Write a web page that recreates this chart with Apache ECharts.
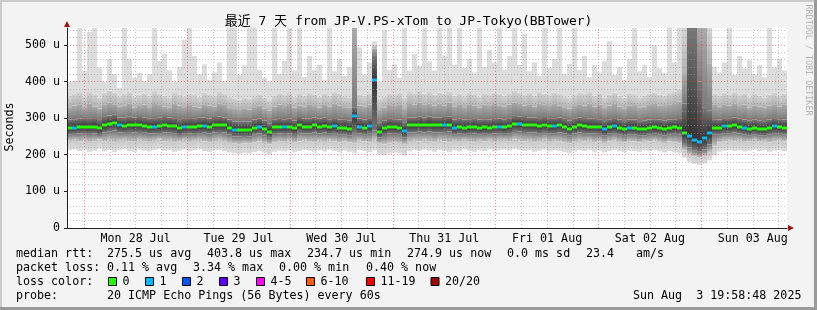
<!DOCTYPE html>
<html><head><meta charset="utf-8">
<script src="https://cdn.jsdelivr.net/npm/echarts@6/dist/echarts.min.js"></script>
<style>html,body{margin:0;padding:0;background:#f3f3f3;}#c{width:817px;height:310px;}</style>
</head><body><div id="c"></div>
<script>
// ---- axis / labels ----
const dayLabels = ['Mon 28 Jul','Tue 29 Jul','Wed 30 Jul','Thu 31 Jul','Fri 01 Aug','Sat 02 Aug','Sun 03 Aug'];
const dayNoonHours = [36, 60, 84, 108, 132, 156, 180];   // hours since 27 Jul 00:00
const startHour = 19.98;           // 27 Jul 19:58:48
const endHour = 187.98;            // 03 Aug 19:58:48
const bucketHours = 7 / 6;         // 70 minute buckets (144 buckets)
const yMaxUs = 546;

// ---- per-bucket RTT distribution (microseconds) ----
const minUs = [212,215,210,214,208,211,216,209,213,207,212,215,210,208,214,211,209,213,216,210,212,208,211,214,
209,212,215,210,207,211,213,209,206,204,202,205,203,207,210,206,200,208,211,209,212,207,210,213,
211,208,212,209,214,210,207,211,208,205,213,210,207,212,200,198,203,206,204,197,209,212,210,214,
211,208,213,210,207,212,209,214,211,208,212,210,215,209,212,214,211,216,213,210,212,208,211,214,
209,212,210,207,204,209,212,210,213,208,211,206,210,213,209,207,211,210,208,212,210,213,209,206,
210,207,204,192,180,175,173,176,185,198,208,211,213,210,212,209,211,214,210,212,208,211,213,210];
const lowUs = [238,240,236,239,235,237,241,236,239,234,238,240,236,235,239,237,235,238,241,236,238,234,237,240,
235,238,240,236,233,237,239,235,232,230,229,231,230,233,236,232,228,234,237,235,238,233,236,239,
237,234,238,235,239,236,233,237,234,231,239,236,233,240,230,228,231,233,232,227,235,238,236,240,
237,234,239,236,233,238,235,240,237,234,238,236,240,235,238,240,237,241,239,236,238,234,237,240,
235,238,236,233,230,235,238,236,239,234,237,232,236,239,235,233,237,236,234,238,236,239,235,232,
236,233,230,212,200,195,192,196,205,222,234,237,239,236,238,235,237,240,236,238,234,237,239,236];
const midLowUs = [256,257,258,259,257,258,254,261,264,266,261,260,262,261,262,260,258,258,259,261,260,259,254,257,
258,257,259,260,258,261,262,261,256,250,250,251,250,256,258,253,246,257,258,257,258,254,262,258,
258,261,258,260,257,259,256,256,253,262,258,256,259,266,247,254,258,257,256,248,261,261,263,261,
263,261,261,262,263,256,258,256,257,258,256,257,256,258,259,257,259,265,264,262,261,261,259,262,
259,259,261,258,253,258,261,259,258,258,257,252,257,259,256,252,256,256,252,253,256,257,256,253,
256,257,256,232,220,212,208,214,228,256,256,259,259,261,258,256,253,256,253,252,256,259,257,256];
const medianUs = [274,274,276,277,276,277,272,280,284,287,280,279,281,280,281,279,277,277,278,280,279,278,272,276,
277,276,278,279,277,280,281,280,274,268,268,268,268,274,277,271,263,275,276,275,276,272,281,277,
277,280,277,279,275,278,274,274,271,306,277,274,278,404,263,272,276,275,274,264,280,280,282,280,
282,280,280,281,282,274,276,274,275,276,274,275,274,276,277,275,278,284,283,281,280,280,278,281,
278,278,280,276,271,276,280,278,277,276,275,270,275,278,274,270,274,274,270,271,274,275,274,271,
274,275,274,258,252,240,235,245,258,274,274,278,278,280,276,274,271,274,271,270,274,278,275,274];
const midHighUs = [296,297,299,300,298,300,295,303,307,309,302,301,304,302,303,301,299,300,301,303,302,300,295,298,
300,298,301,302,299,303,304,302,296,291,290,291,290,296,299,293,286,297,298,297,299,294,303,299,
299,302,299,301,297,300,296,297,294,330,299,296,300,470,287,294,298,297,296,289,302,302,305,302,
305,302,302,303,305,296,298,296,297,298,296,297,296,298,299,297,300,306,305,303,302,302,300,303,
300,300,302,298,293,298,302,300,299,298,297,292,297,300,296,292,296,296,292,293,296,297,296,293,
296,297,300,340,600,600,400,330,320,297,296,300,300,302,298,296,293,296,293,292,296,300,297,296];
const highUs = [330,334,338,328,340,332,326,336,342,338,331,335,340,329,333,337,330,341,336,332,328,339,334,330,
336,332,329,338,334,331,340,336,328,325,322,327,324,330,334,326,320,332,337,333,339,329,335,331,
338,333,329,336,332,340,335,330,328,600,334,331,337,490,322,329,336,333,338,325,341,337,343,336,
340,334,339,335,342,331,336,330,338,334,329,337,333,339,335,331,337,343,339,334,338,332,340,336,
333,339,335,330,326,333,338,335,340,332,337,328,334,339,331,327,335,333,328,331,336,339,334,333,
338,341,345,420,600,600,600,600,450,336,332,338,335,340,333,337,329,335,331,328,334,338,332,336];
const topUs = [362,368,371,358,373,365,356,369,375,370,360,366,372,359,364,368,361,374,367,362,357,371,365,360,
367,363,359,370,365,361,372,367,358,354,350,357,353,360,365,356,349,362,368,364,371,359,366,361,
369,364,358,367,362,372,366,360,357,600,365,361,368,500,352,358,367,363,369,355,372,368,374,367,
371,365,370,366,373,361,367,360,369,365,358,368,363,370,366,361,368,374,370,365,369,362,371,367,
363,370,366,360,355,363,369,366,371,362,368,357,364,370,361,356,366,363,357,361,367,370,364,362,
369,372,380,600,600,600,600,600,600,367,362,369,365,371,363,368,359,366,361,357,364,369,362,366];
const maxUs = [400,402,560,430,536,560,438,398,461,420,383,560,461,411,424,401,420,560,456,475,430,398,440,514,
560,470,420,447,405,425,452,401,560,560,418,444,560,560,432,410,398,560,421,456,560,430,560,412,
470,432,446,405,560,428,461,415,440,600,493,420,452,510,398,540,432,447,410,560,430,475,442,560,
455,430,560,471,560,446,560,438,462,425,560,440,486,451,560,432,470,560,445,530,428,452,416,560,
438,462,560,420,448,560,431,470,412,445,425,455,510,418,440,405,461,560,428,446,412,498,436,424,
560,452,560,600,600,600,600,600,600,440,425,452,560,418,470,436,458,420,445,412,560,438,462,430];
// lost pings (of 20) per bucket
const lossCount = [0,1,0,0,0,0,0,0,0,0,1,0,0,0,0,0,0,1,0,0,0,0,0,1,
0,0,0,1,0,0,0,0,0,1,0,0,0,0,1,0,0,0,0,1,0,0,0,0,
0,0,0,0,0,1,0,0,0,1,1,0,1,1,0,0,0,0,0,1,0,0,0,0,
0,0,0,1,0,1,0,0,0,0,0,0,0,0,1,0,0,0,1,0,0,0,0,0,
0,1,0,0,0,0,0,0,0,0,0,1,0,1,0,0,1,0,0,0,0,0,0,0,
0,0,0,0,1,1,1,1,1,0,0,1,0,0,0,1,0,0,0,0,0,1,0,0];

const lossClasses = [
  {label:'0', lo:0, hi:0, color:'#26ff00'},
  {label:'1', lo:1, hi:1, color:'#00b8ff'},
  {label:'2', lo:2, hi:2, color:'#0059ff'},
  {label:'3', lo:3, hi:3, color:'#5e00ff'},
  {label:'4-5', lo:4, hi:5, color:'#ff00ff'},
  {label:'6-10', lo:6, hi:10, color:'#ff5e00'},
  {label:'11-19', lo:11, hi:19, color:'#ff0000'},
  {label:'20/20', lo:20, hi:20, color:'#a10000'}
];
const statsRtt = ['275.5 us avg','403.8 us max','234.7 us min','274.9 us now','0.0 ms sd','23.4','am/s'];
const statsLoss = ['0.11 % avg','3.34 % max','0.00 % min','0.40 % now'];
const probeText = '20 ICMP Echo Pings (56 Bytes) every 60s';
const stampText = 'Sun Aug  3 19:58:48 2025';
const titleText = '最近 7 天 from JP-V.PS-xTom to JP-Tokyo(BBTower)';

// ---- build series data ----
const smokeData = medianUs.map((m, i) => [startHour + i * bucketHours, startHour + (i + 1) * bucketHours,
  minUs[i], lowUs[i], midLowUs[i], m, midHighUs[i], highUs[i], topUs[i], maxUs[i]]);
const medianData = medianUs.map((m, i) => [startHour + i * bucketHours, startHour + (i + 1) * bucketHours, m, lossCount[i]]);

const LG = echarts.graphic.LinearGradient;
const bandColors = [
  ['#c8c8c8', '#dedede'],
  ['#747474', '#c8c8c8'],
  ['#333333', '#747474'],
  ['#787878', '#333333'],
  ['#ababab', '#7a7a7a'],
  ['#d3d3d3', '#b2b2b2'],
  ['#dcdcdc', '#dcdcdc']
];
const bandFills = bandColors.map(c => c[0] === c[1] ? c[0] : new LG(0, 0, 0, 1, [{offset:0, color:c[0]}, {offset:1, color:c[1]}]));

function renderSmoke(params, api) {
  const t0 = api.value(0), t1 = api.value(1);
  const xa = Math.round(api.coord([t0, 0])[0]);
  const xb = Math.round(api.coord([t1, 0])[0]);
  const lv = [];
  for (let k = 2; k <= 9; k++) lv.push(Math.min(api.value(k), yMaxUs));
  const children = [];
  for (let k = 0; k < 7; k++) {
    const lo = lv[k], hi = lv[k + 1];
    if (hi <= lo) continue;
    const yT = api.coord([t0, hi])[1], yB = api.coord([t0, lo])[1];
    children.push({type:'rect', shape:{x:xa, y:yT, width:xb - xa, height:yB - yT}, style:{fill:bandFills[k]}});
  }
  return {type:'group', children};
}
function lossColor(n) {
  for (const c of lossClasses) if (n >= c.lo && n <= c.hi) return c.color;
  return '#a10000';
}
function renderMedian(params, api) {
  const t0 = api.value(0), t1 = api.value(1), m = api.value(2), n = api.value(3);
  const p0 = api.coord([t0, m]), p1 = api.coord([t1, m]);
  const xa = Math.round(p0[0]), xb = Math.round(p1[0]);
  return {type:'rect', shape:{x:xa, y:Math.round(p0[1]) - 1.5, width:xb - xa, height:3}, style:{fill:lossColor(n)}};
}

// ---- grid lines (drawn above smoke, like rrdtool) ----
const gridLines = [];
const redStyle = {color:'rgba(230,60,60,0.55)', type:[1,2], width:1};
const grayStyle = {color:'rgba(150,150,150,0.55)', type:[1,2], width:1};
for (let h = 24; h < endHour; h += 6) {
  if (h <= startHour) continue;
  gridLines.push({xAxis:h, lineStyle: h % 24 === 0 ? redStyle : grayStyle});
}
for (let v = 20; v < yMaxUs; v += 20) {
  gridLines.push({yAxis:v, lineStyle: v % 100 === 0 ? redStyle : grayStyle});
}

const MONO = '"DejaVu Sans Mono", "Noto Sans CJK SC", monospace';
const FS = 11.67;
function txt(x, y, s, extra) {
  return {type:'text', x:x, y:y, silent:true, z:100,
    style:Object.assign({text:s, fontFamily:MONO, fontSize:FS, fill:'#000', align:'left', verticalAlign:'middle',
      textAlign:'left', textVerticalAlign:'middle'}, extra || {})};
}

const graphics = [];
// frame
graphics.push({type:'rect', shape:{x:0, y:0, width:817, height:2}, style:{fill:'#cbcbcb'}, silent:true});
graphics.push({type:'rect', shape:{x:0, y:0, width:2, height:310}, style:{fill:'#cbcbcb'}, silent:true});
graphics.push({type:'rect', shape:{x:0, y:307, width:817, height:3}, style:{fill:'#9a9a9a'}, silent:true});
graphics.push({type:'rect', shape:{x:814, y:0, width:3, height:310}, style:{fill:'#9a9a9a'}, silent:true});
// title
graphics.push({type:'text', x:408.5, y:21.5, silent:true, style:{text:titleText, fontFamily:MONO, fontSize:13, fill:'#000', align:'center', verticalAlign:'middle', textAlign:'center', textVerticalAlign:'middle'}});
// y-axis name
graphics.push({type:'text', x:10, y:127, rotation:Math.PI/2, silent:true, style:{text:'Seconds', fontFamily:MONO, fontSize:FS, fill:'#000', align:'center', verticalAlign:'middle', textAlign:'center', textVerticalAlign:'middle'}});
// watermark
graphics.push({type:'text', x:808, y:60, rotation:-Math.PI/2, silent:true, style:{text:'RRDTOOL / TOBI OETIKER', fontFamily:MONO, fontSize:8.4, fill:'#b4b4b4', align:'center', verticalAlign:'middle', textAlign:'center', textVerticalAlign:'middle'}});
// arrows
graphics.push({type:'polygon', shape:{points:[[64,27],[70,27],[67,21]]}, style:{fill:'#a01010'}, silent:true, z:100});
graphics.push({type:'polygon', shape:{points:[[788,225],[788,231],[794,228]]}, style:{fill:'#a01010'}, silent:true, z:100});
// legend rows
const rttX = [107, 207, 307, 407, 507, 586, 636];
graphics.push(txt(16, 254, 'median rtt:'));
statsRtt.forEach((s, i) => graphics.push(txt(rttX[i], 254, s)));
const lossX = [107, 193, 279, 366];
graphics.push(txt(16, 268, 'packet loss:'));
statsLoss.forEach((s, i) => graphics.push(txt(lossX[i], 268, s)));
graphics.push(txt(16, 282, 'loss color:'));
const sqX = [108.5, 145.5, 182.5, 219.5, 256.5, 306.5, 366.5, 431];
lossClasses.forEach((c, i) => {
  graphics.push({type:'rect', shape:{x:sqX[i], y:277.5, width:8, height:8}, style:{fill:c.color, stroke:'#000', lineWidth:1}, silent:true, z:100});
  graphics.push(txt(sqX[i] + 14, 282, c.label));
});
graphics.push(txt(16, 296, 'probe:'));
graphics.push(txt(107, 296, probeText));
graphics.push(txt(633, 296, stampText));

const chart = echarts.init(document.getElementById('c'), null, {renderer:'canvas'});
chart.setOption({
  backgroundColor:'#f3f3f3',
  animation:false,
  grid:{left:67, top:28, width:720, height:200, show:true, backgroundColor:'#ffffff', borderWidth:0},
  xAxis:{type:'value', min:startHour, max:endHour, z:10,
    axisLine:{show:true, lineStyle:{color:'#222', width:1}},
    axisTick:{show:false},
    splitLine:{show:false},
    axisLabel:{customValues:dayNoonHours, formatter:(v) => dayLabels[dayNoonHours.indexOf(Math.round(v))] || '',
      fontFamily:MONO, fontSize:FS, color:'#000', margin:5}},
  yAxis:{type:'value', min:0, max:yMaxUs, interval:100, z:10,
    axisLine:{show:true, lineStyle:{color:'#222', width:1}},
    axisTick:{show:true, length:3, lineStyle:{color:'#222'}},
    splitLine:{show:false},
    axisLabel:{formatter:(v) => v === 0 ? '0' : (v + ' u'), fontFamily:MONO, fontSize:FS, color:'#000', margin:7, showMaxLabel:false}},
  graphic:graphics,
  series:[
    {type:'custom', name:'smoke', z:2, clip:true, renderItem:renderSmoke, data:smokeData,
      encode:{x:[0,1], y:[2,3,4,5,6,7,8,9]}, silent:true},
    {type:'line', name:'grid', z:3, data:[], silent:true,
      markLine:{silent:true, symbol:['none','none'], label:{show:false}, animation:false, data:gridLines}},
    {type:'custom', name:'median', z:4, clip:true, renderItem:renderMedian, data:medianData,
      encode:{x:[0,1], y:2}, silent:true}
  ]
});
</script></body></html>
